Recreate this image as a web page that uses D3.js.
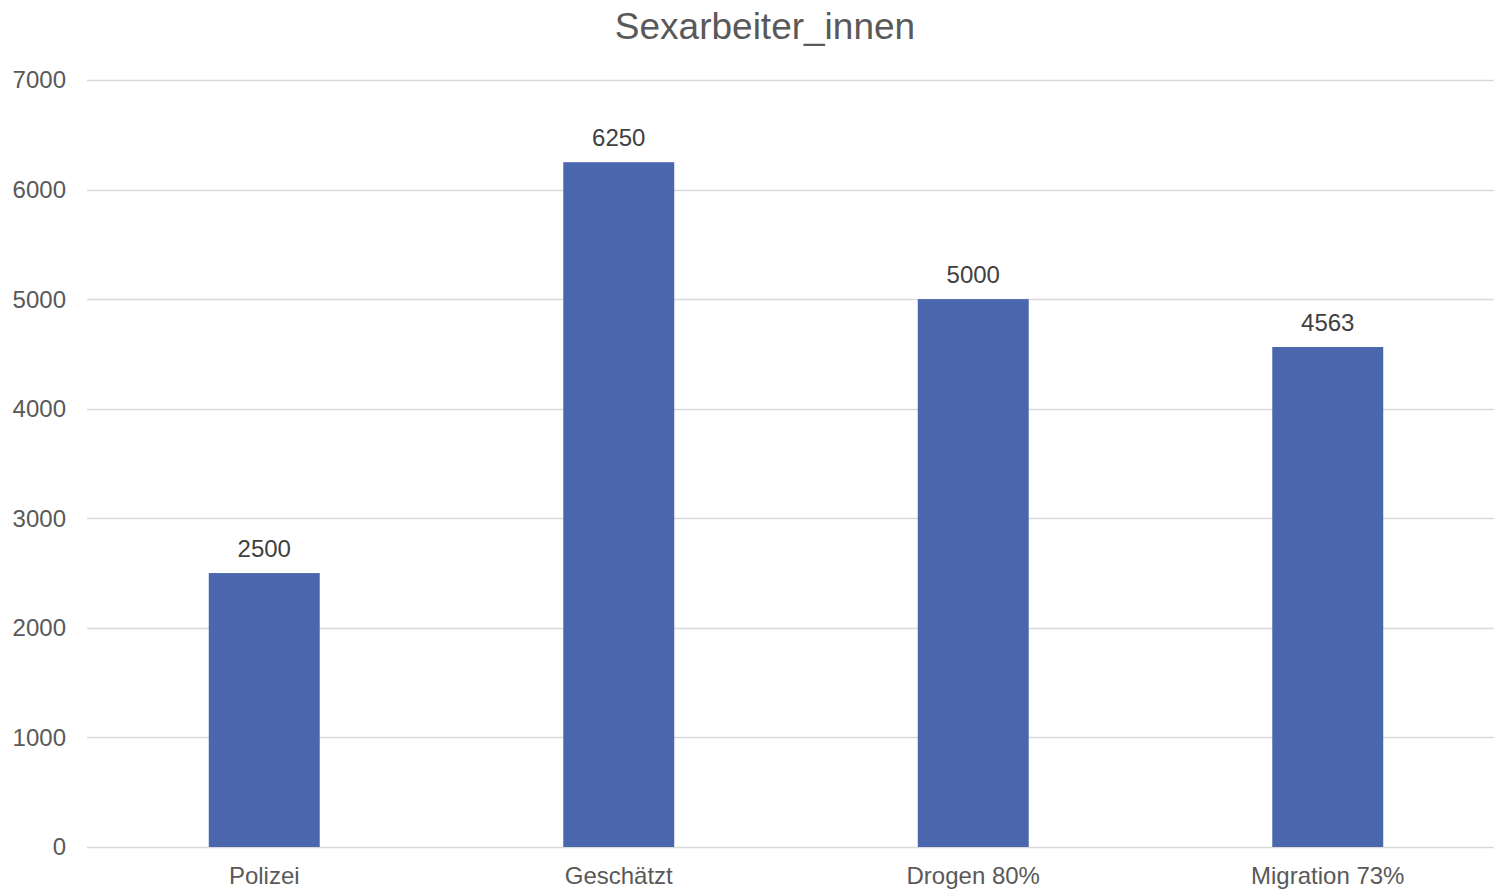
<!DOCTYPE html>
<html><head><meta charset="utf-8">
<script src="https://cdn.jsdelivr.net/npm/d3@7"></script>
<style>body{margin:0;background:#fff}svg{display:block;font-family:"Liberation Sans",Arial,sans-serif}</style>
</head><body><svg id="c" width="1494" height="890"></svg>
<script>
const categories = ["Polizei", "Geschätzt", "Drogen 80%", "Migration 73%"];
const values = [2500, 6250, 5000, 4563];
const yTicks = [0, 1000, 2000, 3000, 4000, 5000, 6000, 7000];
const title = "Sexarbeiter_innen";

(function () {
const svg = d3.select("#c");
const plotLeft = 87, plotRight = 1505, plotTop = 80, plotBottom = 847, gridRight = 1494;
const x = d3.scaleBand().domain(categories).range([plotLeft, plotRight]).paddingInner(0.687).paddingOuter(0.3435);
const y = d3.scaleLinear().domain([0, 7000]).range([plotBottom, plotTop]);

svg.append("text").attr("x", 765).attr("y", 39).attr("text-anchor", "middle")
  .attr("font-size", 37).attr("fill", "#595959").text(title);

const g = svg.append("g");
g.selectAll("line.grid").data(yTicks).join("line").attr("class", "grid")
  .attr("x1", plotLeft).attr("x2", gridRight)
  .attr("y1", d => Math.round(y(d)) + 0.5).attr("y2", d => Math.round(y(d)) + 0.5)
  .attr("stroke", "#d9d9d9").attr("stroke-width", 1.5);

g.selectAll("text.yt").data(yTicks).join("text").attr("class", "yt")
  .attr("x", 66).attr("y", d => y(d)).attr("dy", "0.35em").attr("text-anchor", "end")
  .attr("font-size", 24).attr("fill", "#595959").text(d => d);

g.selectAll("rect").data(values).join("rect")
  .attr("x", (d, i) => x(categories[i])).attr("width", x.bandwidth())
  .attr("y", d => y(d)).attr("height", d => y(0) - y(d)).attr("fill", "#4A66AD");

g.selectAll("text.lbl").data(values).join("text").attr("class", "lbl")
  .attr("x", (d, i) => x(categories[i]) + x.bandwidth() / 2).attr("y", d => y(d) - 16)
  .attr("text-anchor", "middle").attr("font-size", 24).attr("fill", "#404040").text(d => d);

g.selectAll("text.cat").data(categories).join("text").attr("class", "cat")
  .attr("x", d => x(d) + x.bandwidth() / 2).attr("y", 884)
  .attr("text-anchor", "middle").attr("font-size", 24).attr("fill", "#595959").text(d => d);
})();
</script></body></html>
